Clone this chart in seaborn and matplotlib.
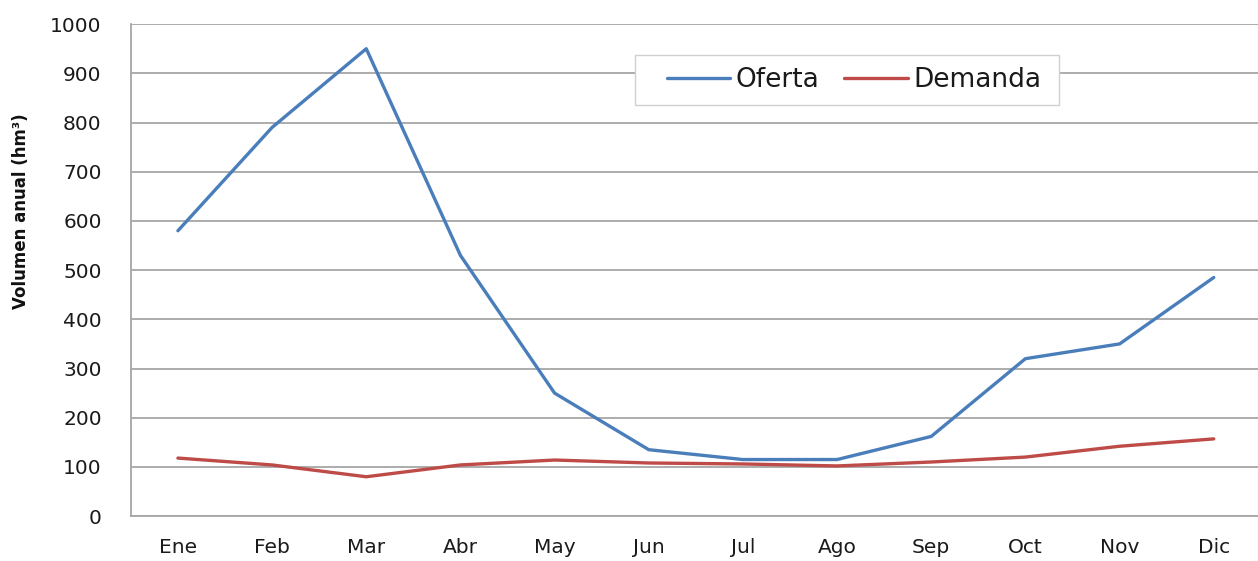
import numpy as np
import pandas as pd
import matplotlib
matplotlib.use("Agg")
import matplotlib.pyplot as plt
from matplotlib.patches import Rectangle
import seaborn as sns

# Monthly supply and demand volumes (hm³)
meses = ["Ene", "Feb", "Mar", "Abr", "May", "Jun", "Jul", "Ago", "Sep", "Oct", "Nov", "Dic"]
oferta = [580, 790, 950, 530, 250, 135, 115, 115, 162, 320, 350, 485]
demanda = [118, 104, 80, 104, 114, 108, 106, 102, 110, 120, 142, 157]
series = ["Oferta", "Demanda"]
y_ticks = [0, 100, 200, 300, 400, 500, 600, 700, 800, 900, 1000]

df = pd.concat([
    pd.DataFrame({"Mes": meses, "Volumen": oferta, "Serie": series[0]}),
    pd.DataFrame({"Mes": meses, "Volumen": demanda, "Serie": series[1]}),
])
df["pos"] = df["Mes"].map({m: i for i, m in enumerate(meses)})

sns.set_theme(style="white")
plt.rcParams["font.family"] = ["DejaVu Sans"]

fig = plt.figure(figsize=(12.58, 5.61), dpi=100)
ax = fig.add_axes([0.104, 0.080, 0.896, 0.877])

palette = {"Oferta": "#4A7EBB", "Demanda": "#BE4B48"}
sns.lineplot(data=df, x="pos", y="Volumen", hue="Serie", hue_order=series,
             palette=palette, linewidth=2.4, ax=ax, zorder=3)

ax.set_xlim(-0.5, 11.47)
ax.set_ylim(0, 1000)
ax.set_yticks(y_ticks)
ax.set_yticklabels([str(v) for v in y_ticks])
ax.set_xticks(range(len(meses)))
ax.set_xticklabels(meses)
ax.grid(axis="y", color="#A6A6A6", linewidth=1.3, zorder=0)
ax.set_axisbelow(True)

for side in ["top", "right"]:
    ax.spines[side].set_visible(False)
for side in ["left", "bottom"]:
    ax.spines[side].set_color("#A6A6A6")
    ax.spines[side].set_linewidth(1.3)

ax.tick_params(axis="y", length=0, pad=21, labelsize=14.5, labelcolor="#1a1a1a")
ax.tick_params(axis="x", length=0, pad=16, labelsize=14.5, labelcolor="#1a1a1a")
ax.set_xlabel("")
ax.set_ylabel("Volumen anual (hm³)", fontsize=12, fontweight="bold", color="#111111")
ax.yaxis.set_label_coords(-0.0896, 0.62)

# Legend box drawn as its own patch, with the entries placed inside it
ax.add_patch(Rectangle((0.4472, 0.8354), 0.3762, 0.1016, transform=ax.transAxes,
                       facecolor="white", edgecolor="#D0D0D0", linewidth=1.0,
                       zorder=4, clip_on=False))
leg = ax.legend(loc="center left", bbox_to_anchor=(0.4756, 0.886), ncol=2,
                fontsize=19, frameon=False, handlelength=2.4,
                handletextpad=0.2, columnspacing=0.95, borderpad=0.0,
                borderaxespad=0.0)
leg.set_zorder(5)
for t in leg.get_texts():
    t.set_color("#1a1a1a")

fig.savefig("out.png", dpi=100, facecolor="white")
